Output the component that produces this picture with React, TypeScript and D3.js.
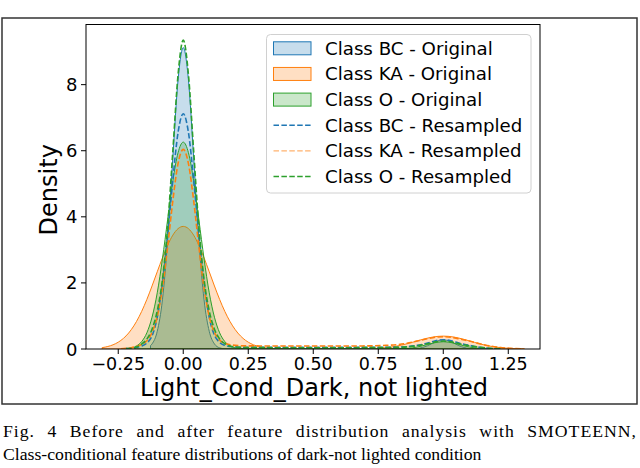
import React, { useLayoutEffect, useRef, useState } from "react";
import * as d3 from "d3";

type Pt = [number, number];

// Density curves: [x, density]
const bcOriginal: Pt[] = [
  [-0.126, 0.1], [-0.12, 0.154], [-0.1, 0.536], [-0.08, 1.49], [-0.06, 3.29], [-0.04, 5.8], [-0.02, 8.14],
  [0, 9.12], [0.02, 8.14], [0.04, 5.8], [0.06, 3.29], [0.08, 1.49], [0.1, 0.536], [0.12, 0.154], [0.14, 0.035],
  [0.16, 0.006], [0.2, 0], [0.8, 0], [0.84, 0.0002], [0.88, 0.005], [0.9, 0.016], [0.92, 0.046], [0.94, 0.101],
  [0.96, 0.178], [0.98, 0.25], [1.0, 0.28], [1.02, 0.25], [1.04, 0.178], [1.06, 0.101], [1.08, 0.046],
  [1.1, 0.016], [1.12, 0.005], [1.126, 0.003],
];

const kaOriginal: Pt[] = [
  [-0.312, 0.041], [-0.3, 0.058], [-0.28, 0.099], [-0.26, 0.163], [-0.24, 0.259], [-0.22, 0.396], [-0.2, 0.584],
  [-0.18, 0.83], [-0.16, 1.136], [-0.14, 1.499], [-0.12, 1.907], [-0.1, 2.337], [-0.08, 2.76], [-0.06, 3.141],
  [-0.04, 3.446], [-0.02, 3.642], [0, 3.71], [0.02, 3.642], [0.04, 3.446], [0.06, 3.141], [0.08, 2.76],
  [0.1, 2.337], [0.12, 1.907], [0.14, 1.499], [0.16, 1.136], [0.18, 0.83], [0.2, 0.584], [0.22, 0.396],
  [0.24, 0.259], [0.26, 0.163], [0.28, 0.099], [0.3, 0.058], [0.34, 0.016], [0.4, 0.003], [0.5, 0],
  [0.6, 0.0003], [0.66, 0.002], [0.7, 0.006], [0.72, 0.01], [0.74, 0.017], [0.76, 0.027], [0.78, 0.042],
  [0.8, 0.061], [0.82, 0.087], [0.84, 0.119], [0.86, 0.158], [0.88, 0.2], [0.9, 0.246], [0.92, 0.29],
  [0.94, 0.33], [0.96, 0.362], [0.98, 0.383], [1.0, 0.39], [1.02, 0.383], [1.04, 0.362], [1.06, 0.33],
  [1.08, 0.29], [1.1, 0.246], [1.12, 0.2], [1.14, 0.158], [1.16, 0.119], [1.18, 0.087], [1.2, 0.061],
  [1.22, 0.042], [1.24, 0.027], [1.26, 0.017], [1.28, 0.01], [1.3, 0.006], [1.312, 0.004],
];

const oOriginal: Pt[] = [
  [-0.186, 0.07], [-0.18, 0.093], [-0.16, 0.224], [-0.14, 0.489], [-0.12, 0.962], [-0.1, 1.7], [-0.08, 2.73],
  [-0.06, 3.92], [-0.04, 5.09], [-0.02, 5.94], [0, 6.26], [0.02, 5.94], [0.04, 5.09], [0.06, 3.92],
  [0.08, 2.73], [0.1, 1.7], [0.12, 0.962], [0.14, 0.489], [0.16, 0.224], [0.18, 0.093], [0.2, 0.035],
  [0.24, 0.004], [0.3, 0], [0.7, 0], [0.76, 0.0002], [0.8, 0.001], [0.84, 0.008], [0.86, 0.017],
  [0.88, 0.034], [0.9, 0.06], [0.92, 0.096], [0.94, 0.138], [0.96, 0.179], [0.98, 0.209], [1.0, 0.22],
  [1.02, 0.209], [1.04, 0.179], [1.06, 0.138], [1.08, 0.096], [1.1, 0.06], [1.12, 0.034], [1.14, 0.017],
  [1.16, 0.008], [1.186, 0.0024],
];

const bcResampled: Pt[] = [
  [-0.22, 0.01], [-0.2, 0.025], [-0.18, 0.05], [-0.16, 0.09], [-0.14, 0.18], [-0.12, 0.4], [-0.1, 0.96],
  [-0.08, 2.0], [-0.06, 3.47], [-0.04, 5.13], [-0.02, 6.55], [0, 7.12], [0.02, 6.55], [0.04, 5.13],
  [0.06, 3.47], [0.08, 2.0], [0.1, 0.96], [0.12, 0.42], [0.14, 0.2], [0.16, 0.11], [0.18, 0.075],
  [0.2, 0.06], [0.25, 0.052], [0.4, 0.05], [0.6, 0.05], [0.75, 0.05], [0.82, 0.055], [0.86, 0.07],
  [0.9, 0.11], [0.94, 0.18], [0.97, 0.25], [1.0, 0.28], [1.03, 0.25], [1.06, 0.18], [1.1, 0.11],
  [1.14, 0.05], [1.18, 0.015], [1.22, 0.004],
];

const kaResampled: Pt[] = [
  [-0.24, 0.008], [-0.22, 0.02], [-0.2, 0.04], [-0.18, 0.08], [-0.16, 0.14], [-0.14, 0.25], [-0.12, 0.5],
  [-0.1, 0.98], [-0.08, 1.85], [-0.06, 3.1], [-0.04, 4.49], [-0.02, 5.61], [0, 6.04], [0.02, 5.61],
  [0.04, 4.49], [0.06, 3.1], [0.08, 1.85], [0.1, 0.98], [0.12, 0.5], [0.14, 0.27], [0.16, 0.17],
  [0.18, 0.13], [0.2, 0.11], [0.25, 0.095], [0.4, 0.09], [0.6, 0.09], [0.72, 0.095], [0.78, 0.11],
  [0.82, 0.13], [0.86, 0.17], [0.9, 0.24], [0.94, 0.31], [0.97, 0.355], [1.0, 0.37], [1.03, 0.355],
  [1.06, 0.31], [1.1, 0.24], [1.14, 0.16], [1.18, 0.09], [1.22, 0.045], [1.26, 0.018], [1.3, 0.006],
];

const oResampled: Pt[] = [
  [-0.22, 0.01], [-0.2, 0.025], [-0.18, 0.06], [-0.16, 0.15], [-0.14, 0.3], [-0.12, 0.6], [-0.1, 1.15],
  [-0.08, 2.1], [-0.06, 3.7], [-0.04, 6.0], [-0.02, 8.3], [0, 9.35], [0.02, 8.3], [0.04, 6.0], [0.06, 3.7],
  [0.08, 2.1], [0.1, 1.15], [0.12, 0.6], [0.14, 0.3], [0.16, 0.16], [0.18, 0.09], [0.2, 0.06],
  [0.25, 0.045], [0.35, 0.04], [0.5, 0.04], [0.65, 0.04], [0.75, 0.042], [0.82, 0.05], [0.86, 0.065],
  [0.9, 0.1], [0.94, 0.16], [0.97, 0.215], [1.0, 0.24], [1.03, 0.215], [1.06, 0.16], [1.1, 0.1],
  [1.14, 0.055], [1.18, 0.02], [1.22, 0.006],
];

const classNames = ["Class BC", "Class KA", "Class O"];
const classColors = ["#1f77b4", "#ff7f0e", "#2ca02c"];
const xTicks = [-0.25, 0, 0.25, 0.5, 0.75, 1.0, 1.25];
const yTicks = [0, 2, 4, 6, 8];
const xLabel = "Light_Cond_Dark, not lighted";
const yLabel = "Density";
const captionLines = [
  "Fig. 4 Before and after feature distribution analysis with SMOTEENN,",
  "Class-conditional feature distributions of dark-not lighted condition",
];

const SANS = "'DejaVu Sans', sans-serif";
const SERIF = "'Liberation Serif', 'Times New Roman', serif";

export default function App() {
  const W = 640;
  const H = 468;
  const left = 86, right = 540, top = 24.5, bottom = 349;
  const x = d3.scaleLinear().domain([-0.374, 1.372]).range([left, right]);
  const y = d3.scaleLinear().domain([0, 9.82]).range([bottom, top]);
  const area = d3
    .area<Pt>()
    .x((d) => x(d[0]))
    .y0(y(0))
    .y1((d) => y(d[1]))
    .curve(d3.curveMonotoneX);
  const line = d3
    .line<Pt>()
    .x((d) => x(d[0]))
    .y((d) => y(d[1]))
    .curve(d3.curveMonotoneX);
  const originals = [bcOriginal, kaOriginal, oOriginal];
  const resampled = [bcResampled, kaResampled, oResampled];
  const fmtX = d3.format(".2f");

  // justify caption line 1 (slight letter spacing + word spacing, as typeset)
  const cap1Ref = useRef<SVGTextElement>(null);
  const [wordGap, setWordGap] = useState(0);
  useLayoutEffect(() => {
    const el = cap1Ref.current;
    if (!el) return;
    const natural = el.getComputedTextLength();
    const gaps = captionLines[0].split(" ").length - 1;
    const target = 634;
    if (gaps > 0 && natural > 0 && natural < target) setWordGap((target - natural) / gaps);
  }, []);

  const legendItems = [
    ...classNames.map((n, i) => ({ label: `${n} - Original`, color: classColors[i], kind: "patch" })),
    ...classNames.map((n, i) => ({ label: `${n} - Resampled`, color: classColors[i], kind: "line" })),
  ];
  const lgX = 266.5, lgY = 34.5, lgW = 264.5, lgH = 158.5;
  const rowY0 = 48.3, rowStep = 25.65;

  return (
    <svg
      width={W}
      height={H}
      viewBox={`0 0 ${W} ${H}`}
      style={{ position: "absolute", left: 0, top: 0, display: "block", background: "#fff" }}
    >
      <rect x={0} y={0} width={W} height={H} fill="#fff" />
      {/* outer figure frame */}
      <rect x={2} y={18} width={635} height={386} fill="none" stroke="#333" strokeWidth={1.5} />

      <defs>
        <clipPath id="axclip">
          <rect x={left} y={top} width={right - left} height={bottom - top} />
        </clipPath>
      </defs>

      <g clipPath="url(#axclip)">
        {originals.map((s, i) => (
          <path
            key={"f" + i}
            d={area(s) || ""}
            fill={classColors[i]}
            fillOpacity={0.25}
            stroke={classColors[i]}
            strokeWidth={1}
          />
        ))}
        {resampled.map((s, i) => (
          <path
            key={"r" + i}
            d={line(s) || ""}
            fill="none"
            stroke={classColors[i]}
            strokeWidth={1.6}
            strokeDasharray="5.5 2.4"
          />
        ))}
      </g>

      {/* axes frame */}
      <rect x={left} y={top} width={right - left} height={bottom - top} fill="none" stroke="#000" strokeWidth={1} />

      {/* x ticks */}
      {xTicks.map((t) => (
        <g key={"xt" + t}>
          <line x1={x(t)} x2={x(t)} y1={bottom} y2={bottom + 5} stroke="#000" strokeWidth={1} />
          <text x={x(t)} y={369.5} textAnchor="middle" fontFamily={SANS} fontSize={17.5} fill="#000">
            {fmtX(t)}
          </text>
        </g>
      ))}
      {/* y ticks */}
      {yTicks.map((t) => (
        <g key={"yt" + t}>
          <line x1={left - 5} x2={left} y1={y(t)} y2={y(t)} stroke="#000" strokeWidth={1} />
          <text x={77.5} y={y(t) + 6.5} textAnchor="end" fontFamily={SANS} fontSize={18} fill="#000">
            {t}
          </text>
        </g>
      ))}

      <text x={(left + right) / 2 + 1} y={395.5} textAnchor="middle" fontFamily={SANS} fontSize={24} fill="#000">
        {xLabel}
      </text>
      <text
        transform={`translate(57, ${(top + bottom) / 2 + 3}) rotate(-90)`}
        textAnchor="middle"
        fontFamily={SANS}
        fontSize={24}
        fill="#000"
      >
        {yLabel}
      </text>

      {/* legend */}
      <rect x={lgX} y={lgY} width={lgW} height={lgH} rx={4} ry={4} fill="#fff" fillOpacity={0.8} stroke="#d0d0d0" strokeWidth={1} />
      {legendItems.map((it, i) => {
        const cy = rowY0 + i * rowStep;
        const light = it.kind === "line" && i === 4;
        return (
          <g key={"lg" + i}>
            {it.kind === "patch" ? (
              <rect x={273.5} y={cy - 6.5} width={37.5} height={13} fill={it.color} fillOpacity={0.25} stroke={it.color} strokeWidth={1} />
            ) : (
              <line
                x1={273.5}
                x2={311}
                y1={cy}
                y2={cy}
                stroke={it.color}
                strokeOpacity={light ? 0.6 : 1}
                strokeWidth={light ? 1.1 : 1.6}
                strokeDasharray="5.5 2.4"
              />
            )}
            <text x={325} y={cy + 6.5} fontFamily={SANS} fontSize={18.2} fill="#000">
              {it.label}
            </text>
          </g>
        );
      })}

      {/* caption */}
      <text
        ref={cap1Ref}
        x={3}
        y={437}
        fontFamily={SERIF}
        fontSize={17.7}
        fill="#000"
        style={{ letterSpacing: "1px", wordSpacing: `${wordGap}px` }}
      >
        {captionLines[0]}
      </text>
      <text x={3} y={460} fontFamily={SERIF} fontSize={17.7} fill="#000">
        {captionLines[1]}
      </text>
    </svg>
  );
}
